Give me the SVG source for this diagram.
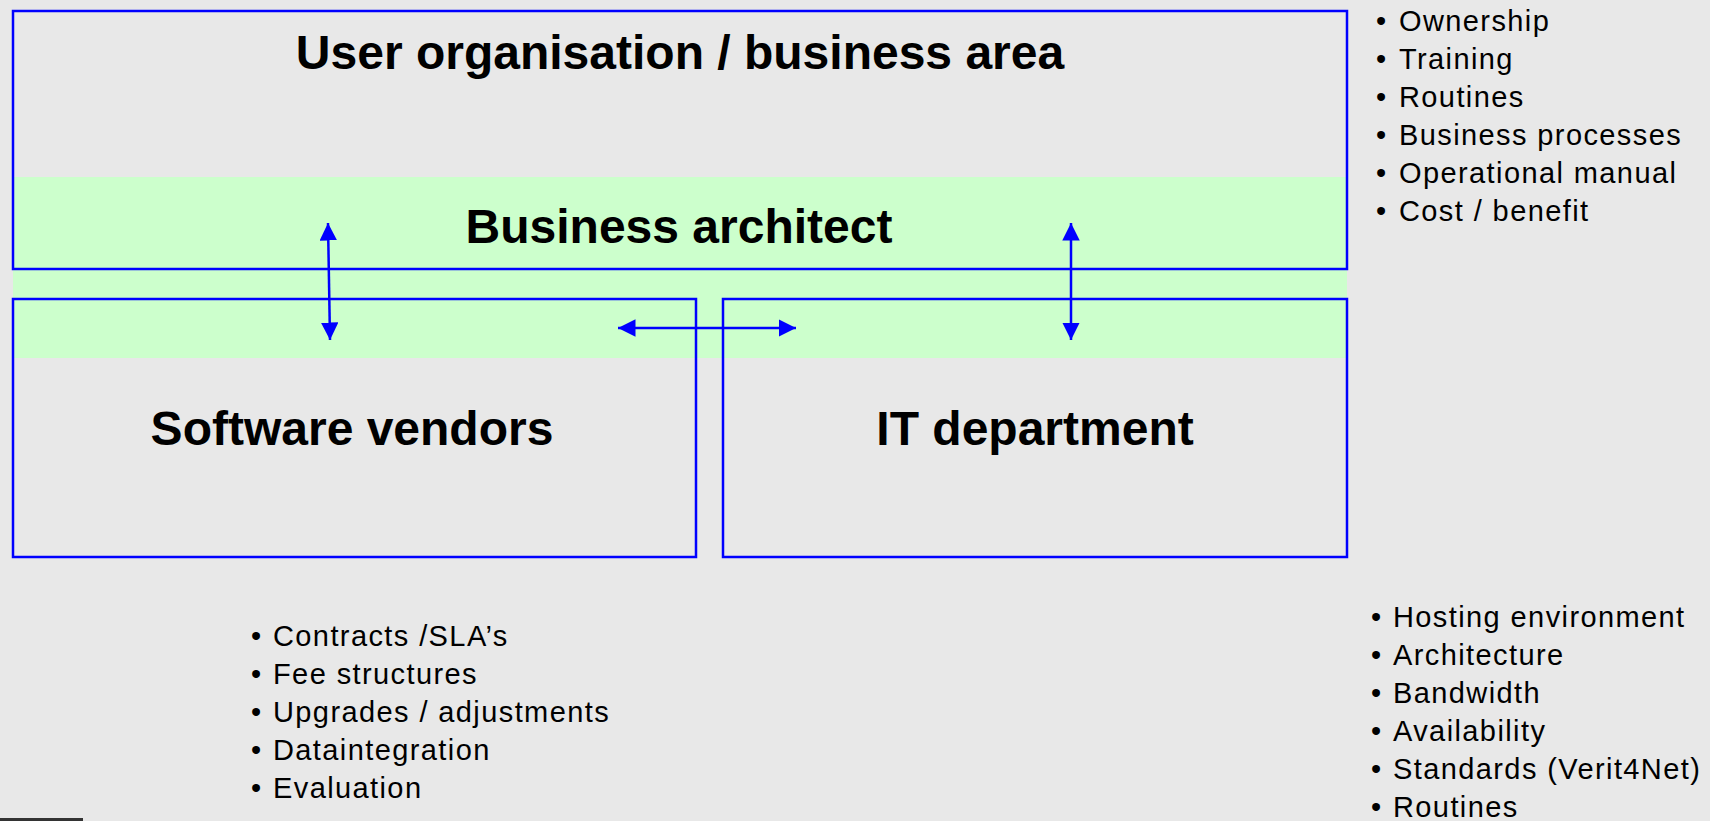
<svg xmlns="http://www.w3.org/2000/svg" width="1710" height="821" viewBox="0 0 1710 821">
<style>
.box{fill:none;stroke:#0000FF;stroke-width:2.5}
.title{font-family:"Liberation Sans",Arial,sans-serif;font-weight:bold;font-size:48px;fill:#000;text-anchor:middle}
.list{font-family:"Liberation Sans",Arial,sans-serif;font-size:29px;fill:#000;letter-spacing:1.4px}
.conn{stroke:#0000FF;stroke-width:2.5;fill:none;marker-start:url(#ah);marker-end:url(#ah)}
</style>
<defs>
<marker id="ah" viewBox="0 0 10 10" refX="10" refY="5" markerWidth="7" markerHeight="7" orient="auto-start-reverse" markerUnits="strokeWidth">
<path d="M0,0 L10,5 L0,10 z" fill="#0000FF"/>
</marker>
</defs>
<rect x="0" y="0" width="1710" height="821" fill="#E8E8E8"/>
<rect x="13" y="177" width="1334" height="181" fill="#CCFFCC"/>
<rect x="0" y="818" width="83" height="3" fill="#333333"/>
<g id="user-org">
<rect class="box" x="13" y="11" width="1334" height="258"/>
<text class="title" x="680" y="69">User organisation / business area</text>
</g>
<g id="business-architect">
<text class="title" x="679" y="243">Business architect</text>
</g>
<g id="software-vendors">
<rect class="box" x="13" y="299" width="683" height="258"/>
<text class="title" x="352" y="445">Software vendors</text>
</g>
<g id="it-department">
<rect class="box" x="723" y="299" width="624" height="258"/>
<text class="title" x="1035" y="445">IT department</text>
</g>
<g id="connectors">
<line class="conn" x1="328" y1="223" x2="330" y2="340"/>
<line class="conn" x1="1071" y1="223" x2="1071" y2="340"/>
<line class="conn" x1="618" y1="328" x2="796" y2="328"/>
</g>
<g id="list-user">
<text class="list"><tspan x="1376" y="31">•</tspan><tspan x="1399" y="31">Ownership</tspan></text>
<text class="list"><tspan x="1376" y="69">•</tspan><tspan x="1399" y="69">Training</tspan></text>
<text class="list"><tspan x="1376" y="107">•</tspan><tspan x="1399" y="107">Routines</tspan></text>
<text class="list"><tspan x="1376" y="145">•</tspan><tspan x="1399" y="145">Business processes</tspan></text>
<text class="list"><tspan x="1376" y="183">•</tspan><tspan x="1399" y="183">Operational manual</tspan></text>
<text class="list"><tspan x="1376" y="221">•</tspan><tspan x="1399" y="221">Cost / benefit</tspan></text>
</g>
<g id="list-vendors">
<text class="list"><tspan x="251" y="646">•</tspan><tspan x="273" y="646">Contracts /SLA’s</tspan></text>
<text class="list"><tspan x="251" y="684">•</tspan><tspan x="273" y="684">Fee structures</tspan></text>
<text class="list"><tspan x="251" y="722">•</tspan><tspan x="273" y="722">Upgrades / adjustments</tspan></text>
<text class="list"><tspan x="251" y="760">•</tspan><tspan x="273" y="760">Dataintegration</tspan></text>
<text class="list"><tspan x="251" y="798">•</tspan><tspan x="273" y="798">Evaluation</tspan></text>
</g>
<g id="list-it">
<text class="list"><tspan x="1371" y="627">•</tspan><tspan x="1393" y="627">Hosting environment</tspan></text>
<text class="list"><tspan x="1371" y="665">•</tspan><tspan x="1393" y="665">Architecture</tspan></text>
<text class="list"><tspan x="1371" y="703">•</tspan><tspan x="1393" y="703">Bandwidth</tspan></text>
<text class="list"><tspan x="1371" y="741">•</tspan><tspan x="1393" y="741">Availability</tspan></text>
<text class="list"><tspan x="1371" y="779">•</tspan><tspan x="1393" y="779">Standards (Verit4Net)</tspan></text>
<text class="list"><tspan x="1371" y="817">•</tspan><tspan x="1393" y="817">Routines</tspan></text>
</g>
</svg>
